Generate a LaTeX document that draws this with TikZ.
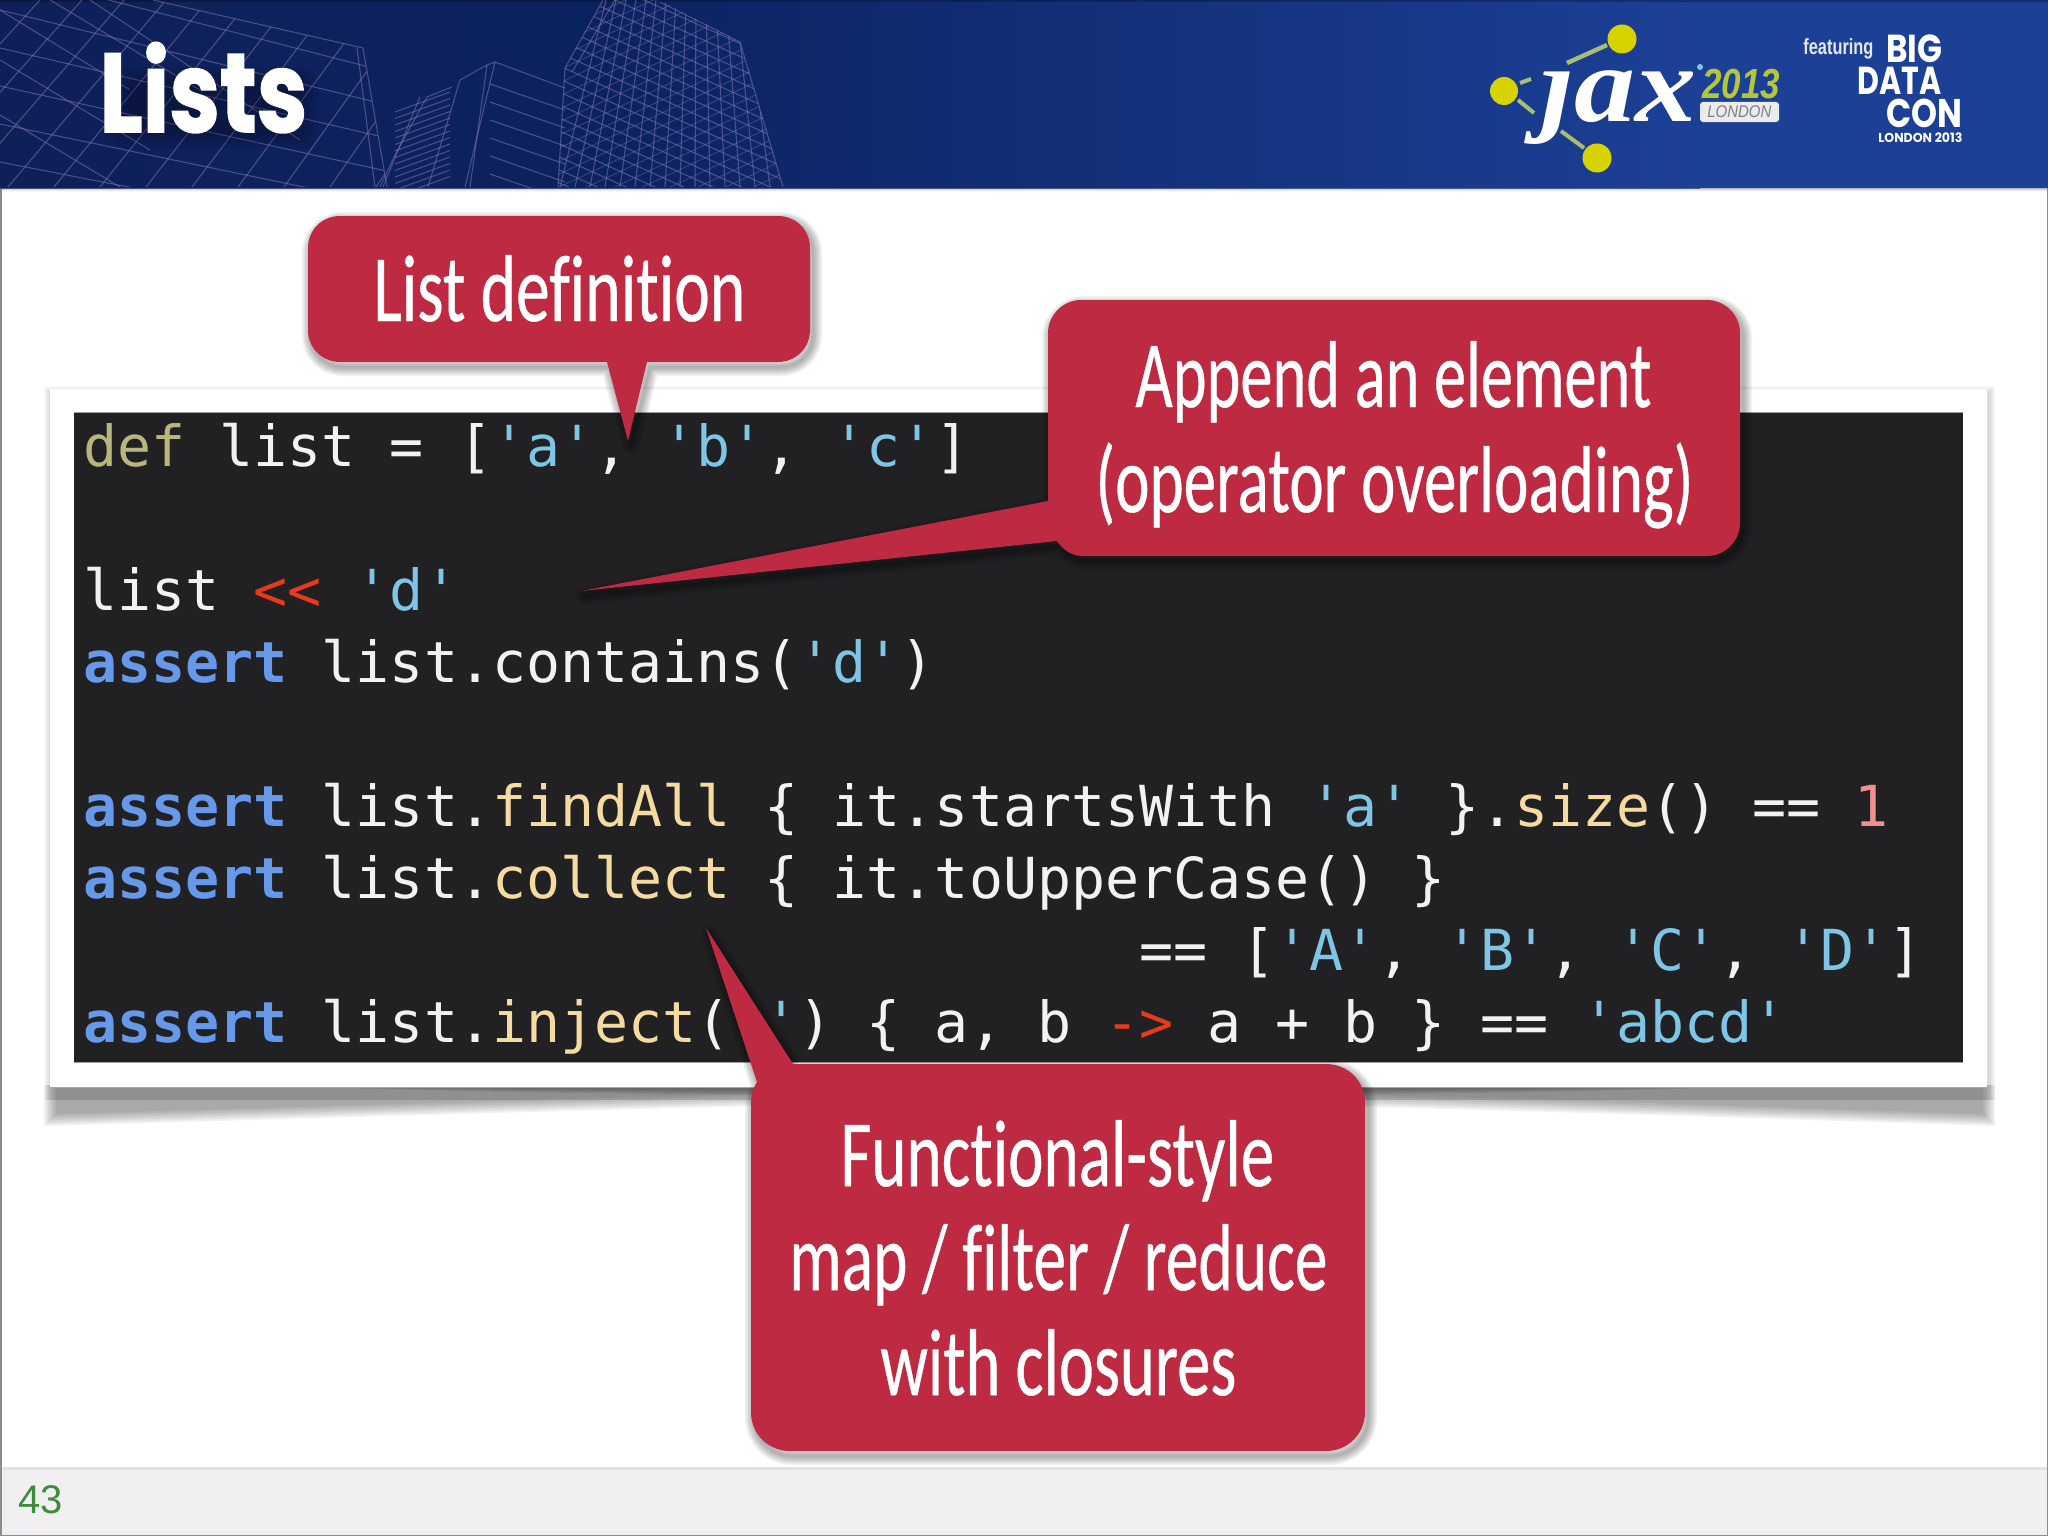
\documentclass[tikz,border=0pt]{standalone}
\usepackage{fontspec}
\usepackage{graphicx}
\newfontfamily\codefont{DejaVu Sans Mono}
\newfontfamily\callfont[Ligatures=NoCommon,FakeBold=0.5]{Carlito}
\newfontfamily\futfont{Poppins}
\newfontfamily\titlefont[BoldFeatures={FakeBold=1.5}]{Poppins}
\newfontfamily\jaxfont{Liberation Serif}
\newfontfamily\numfont{Liberation Sans}
\definecolor{navyA}{HTML}{0F2058}
\definecolor{navyB}{HTML}{0B2260}
\definecolor{navyC}{HTML}{1C4096}
\definecolor{wirec}{HTML}{7D74AE}
\definecolor{crimson}{HTML}{BE2A41}
\definecolor{codebg}{HTML}{212023}
\definecolor{codefg}{HTML}{F2F2F2}
\definecolor{cdef}{HTML}{B8B67C}
\definecolor{cstr}{HTML}{7FC6E6}
\definecolor{cop}{HTML}{E83A1A}
\definecolor{ckw}{HTML}{6699EA}
\definecolor{cfun}{HTML}{F5DBA0}
\definecolor{cnum}{HTML}{F09090}
\definecolor{footbg}{HTML}{F1EFF2}
\definecolor{pagenum}{HTML}{3C8C3C}
\definecolor{dotyel}{HTML}{D6D300}
\definecolor{dotline}{HTML}{A9BE72}
\definecolor{yeargreen}{HTML}{B4C63C}
\definecolor{bdc}{HTML}{E4E8F4}
\newcommand\tdef[1]{\textcolor{cdef}{#1}}
\newcommand\tstr[1]{\textcolor{cstr}{#1}}
\newcommand\topr[1]{\textcolor{cop}{#1}}
\newcommand\tkw[1]{\textcolor{ckw}{\bfseries #1}}
\newcommand\tfun[1]{\textcolor{cfun}{#1}}
\newcommand\tnum[1]{\textcolor{cnum}{#1}}
\newcommand\fitw[2]{\resizebox{#1pt}{\height}{#2}}
\def\pathA{(340,216) -- (778,216) .. controls (796,216) and (810,230) .. (810,248) -- (810,330) .. controls (810,348) and (796,362) .. (778,362) -- (647,362) -- (628,441) -- (607,362) -- (340,362) .. controls (322,362) and (308,348) .. (308,330) -- (308,248) .. controls (308,230) and (322,216) .. (340,216) -- cycle}
\def\pathB{(1081,300) -- (1707,300) .. controls (1725,300) and (1740,315) .. (1740,333) -- (1740,523) .. controls (1740,541) and (1725,556) .. (1707,556) -- (1083,556) .. controls (1072,556) and (1063,550) .. (1057,541) -- (581,591) -- (1048,501) -- (1048,333) .. controls (1048,315) and (1063,300) .. (1081,300) -- cycle}
\def\pathC{(790,1064) -- (1326,1064) .. controls (1348,1064) and (1365,1081) .. (1365,1103) -- (1365,1412) .. controls (1365,1434) and (1348,1451) .. (1326,1451) -- (790,1451) .. controls (768,1451) and (751,1434) .. (751,1412) -- (751,1103) .. controls (751,1095) and (753,1088) .. (757,1082) -- (706,928) -- (793,1064) -- cycle}
\tikzset{
  codeline/.style={anchor=base west,inner sep=0pt,text=codefg,font=\codefont\fontsize{28.29}{30}\selectfont},
  calltext/.style={anchor=base west,inner sep=0pt,text=white,font=\callfont\fontsize{47.5}{50}\selectfont},
  wire/.style={draw=wirec,line width=.55pt,opacity=.55},
  softshadow/.style={draw=black,line join=round},
  callfill/.style={fill=crimson},
  logotext/.style={anchor=base west,inner sep=0pt},
}
\begin{document}
\begin{tikzpicture}[x=.5pt,y=-.5pt]
\frenchspacing
\useasboundingbox (0,0) rectangle (2048,1536);
\fill[white] (0,0) rectangle (2048,1536);
% footer
\fill[footbg] (0,1467) rectangle (2048,1536);
\fill[gray,opacity=.12] (0,1467) rectangle (2048,1470);
% page edges
\fill[gray!90] (0,0) rectangle (1.5,1536);
\fill[gray!90] (2046.5,0) rectangle (2048,1536);
\fill[gray!90] (0,1534.5) rectangle (2048,1536);
% header
\shade[left color=navyA,right color=navyB] (0,0) rectangle (600,188);
\shade[left color=navyB,right color=navyC] (600,0) rectangle (1700,188);
\fill[navyC] (1700,0) rectangle (2048,188);
\fill[black,opacity=.25] (0,0) rectangle (2048,2);
\foreach \d/\o in {1/.35,2/.2,3/.1,4/.05}{\fill[gray,opacity=\o] (0,188) rectangle (2048,188+\d);}
\begin{scope}
\clip (0,0) rectangle (2048,187);
% wireframes: left building
\begin{scope}
\clip (0,-100) -- (153,0) -- (363,48) -- (387,187) -- (0,187) -- cycle;
\foreach \i in {0,...,10}{\draw[wire] (0,{-66+38*\i}) -- (400,{42+33*\i});}
\foreach \i in {0,...,12}{\draw[wire] ({40+42*\i},0) -- ({40+42*\i-170+4*\i},187);}
\draw[wire] (0,10) -- (130,90);
\draw[wire] (0,60) -- (150,150);
\draw[wire] (50,0) -- (200,90);
\draw[wire] (0,115) -- (120,187);
\draw[wire] (90,0) -- (300,140);
\end{scope}
\draw[wire] (153,0) -- (363,48) -- (387,187);
\draw[wire] (357,48) -- (375,187);
% mid building
\draw[wire] (487,65) -- (495,62) -- (565,88);
\draw[wire] (487,65) -- (470,187);
\draw[wire] (495,62) -- (465,187);
\draw[wire] (487,65) -- (460,80) -- (428,187);
\draw[wire] (452,87) -- (427,97) -- (395,155) -- (380,187);
\draw[wire] (420,97) -- (383,187);
\foreach \i in {1,...,7}{\draw[wire] (490,{66+18*\i}) -- (565,{92+18*\i});}
\foreach \i in {0,...,13}{\draw[wire] (395,{112+6.5*\i}) -- (450,{92+6.5*\i});}
% right building
\begin{scope}
\clip (603,0) -- (565,68) -- (558,187) -- (783,187) -- (740,42) -- (660,0) -- cycle;
\foreach \k in {0,...,15}{\draw[wire] ({606+10*\k},0) -- ({560+15*\k},187);}
\foreach \k in {0,...,20}{\draw[wire] (555,{-40+13*\k}) -- (790,{66+13*\k});}
\foreach \k in {0,...,20}{\draw[wire,opacity=.35] (555,{20+13*\k}) -- (790,{-90+13*\k});}
\end{scope}
\draw[wire] (603,0) -- (565,68) -- (558,187);
\draw[wire] (615,0) -- (572,72);
\draw[wire] (660,2) -- (740,42) -- (783,187);
\end{scope}
% title
\foreach \d in {0,5,10,15}{\fill[black,opacity=.07,rounded corners=8pt] ({112+\d},{68+\d}) rectangle ({318-\d},{148-\d});}
\node[logotext,text=white,font=\titlefont\bfseries\fontsize{56}{60}\selectfont] (title) at (99,132) {\fitw{104}{Lists}};
% logo
\draw[dotline,line width=2.2pt] (1567,63) -- (1607,45);
\draw[dotline,line width=2pt] (1520,83) -- (1531,79);
\draw[dotline,line width=2pt] (1518,100) -- (1534,113);
\draw[dotline,line width=2pt] (1561,131) -- (1584,148);
\fill[dotyel] (1622,39) circle (14.5);
\fill[dotyel] (1504,91) circle (14);
\fill[dotyel] (1597,158) circle (14.5);
\begin{scope}
\clip (1500,66) rectangle (1700,160);
\node[logotext,text=white,font=\jaxfont\bfseries\itshape\fontsize{54}{60}\selectfont] (jax) at (1540,121) {\fitw{78}{jax}};
\end{scope}
\fill[cstr] (1700,67) circle (3);
\node[logotext,text=yeargreen,font=\numfont\itshape\bfseries\fontsize{21}{22}\selectfont] (year) at (1702,98) {\fitw{39}{2013}};
\fill[white!92!black,rounded corners=1.5pt] (1700,102) rectangle (1779,122);
\node[logotext,text=gray,font=\numfont\itshape\fontsize{8.5}{9}\selectfont] (lon) at (1707,118) {\fitw{32}{LONDON}};
\node[logotext,text=bdc,font=\numfont\bfseries\fontsize{11}{12}\selectfont] (feat) at (1803,55) {\fitw{35}{featuring}};
\node[logotext,text=white,font=\futfont\bfseries\fontsize{19.5}{20}\selectfont] (big) at (1886,63) {\fitw{28}{BIG}};
\node[logotext,text=white,font=\futfont\bfseries\fontsize{19.5}{20}\selectfont] (data) at (1857,95) {\fitw{42}{DATA}};
\node[logotext,text=white,font=\futfont\bfseries\fontsize{20}{20}\selectfont] (con) at (1886,127) {\fitw{38}{CON}};
\node[logotext,text=white,font=\futfont\bfseries\fontsize{6.5}{7}\selectfont] (londonb) at (1878,142) {\fitw{42}{LONDON 2013}};
% frame shadows
\foreach \d in {0,1.5,3,4.5}{\fill[black,opacity=.035] ({44+\d},{386+\d}) rectangle ({1995-\d},1100);}
\foreach \d in {0,2,4,6,8,10,12}{\fill[black,opacity=.055] ({44+\d},1085) -- ({44+\d},{1126-\d}) .. controls (600,{1110-\d}) and (800,{1103-\d}) .. (1024,{1103-\d}) .. controls (1300,{1103-\d}) and (1500,{1110-\d}) .. ({1995-\d},{1126-\d}) -- ({1995-\d},1085) -- cycle;}
\foreach \d in {0,1.5,3,4.5}{\fill[black,opacity=.07] (250,1085) .. controls (500,{1094-\d}) and (800,{1096-\d}) .. (1024,{1096-\d}) .. controls (1250,{1096-\d}) and (1550,{1094-\d}) .. (1800,1085) -- cycle;}
% frame
\fill[white] (50,389) rectangle (1987,1087);
\fill[gray!70] (50,1086.5) rectangle (1987,1087.5);
% code
\fill[gray!75] (74,411.5) rectangle (1963,1063);
\fill[codebg] (74,413) rectangle (1963,1062);
\node[codeline] (l1) at (83,466) {\tdef{def} list = [\tstr{'a'}, \tstr{'b'}, \tstr{'c'}]};
\node[codeline] (l2) at (83,610) {list \topr{<<} \tstr{'d'}};
\node[codeline] (l3) at (83,682) {\tkw{assert} list.contains(\tstr{'d'})};
\node[codeline] (l4) at (83,826) {\tkw{assert} list.\tfun{findAll} \{ it.startsWith \tstr{'a'} \}.\tfun{size}() == \tnum{1}};
\node[codeline] (l5) at (83,898) {\tkw{assert} list.\tfun{collect} \{ it.toUpperCase() \}};
\node[codeline] (l6) at (1139,970) {== [\tstr{'A'}, \tstr{'B'}, \tstr{'C'}, \tstr{'D'}]};
\node[codeline] (l7) at (83,1042) {\tkw{assert} list.\tfun{inject}(\tstr{''}) \{ a, b \topr{->} a + b \} == \tstr{'abcd'}};
% callouts
\foreach \w in {9,7.5,6,4.5,3,1.5}{
  \begin{scope}[shift={(3,5)}]
  \path[softshadow,opacity=.055,line width=\w] \pathA;
  \path[softshadow,opacity=.055,line width=\w] \pathB;
  \path[softshadow,opacity=.055,line width=\w] \pathC;
  \end{scope}
}
\path[callfill] \pathA;
\path[callfill] \pathB;
\path[callfill] \pathC;
\node[calltext] (c1) at (373,321) {\fitw{186}{List definition}};
\node[calltext] (c2a) at (1135,407) {\fitw{258}{Append an element}};
\node[calltext] (c2b) at (1095,512) {\fitw{299}{(operator overloading)}};
\node[calltext] (c3a) at (840,1186) {\fitw{217}{Functional-style}};
\node[calltext] (c3b) at (789,1290) {\fitw{269}{map / filter / reduce}};
\node[calltext] (c3c) at (880,1395) {\fitw{178}{with closures}};
% page number
\node[logotext,text=pagenum,font=\numfont\fontsize{20}{20}\selectfont] (pn) at (18,1513) {43};
\end{tikzpicture}
\end{document}
